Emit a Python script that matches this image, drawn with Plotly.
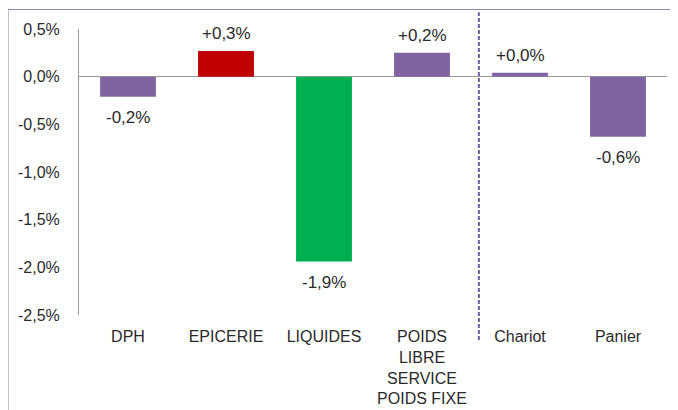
import plotly.graph_objects as go

categories = ["DPH", "EPICERIE", "LIQUIDES", "POIDS<br>LIBRE<br>SERVICE<br>POIDS FIXE", "Chariot", "Panier"]
values = [-0.21, 0.27, -1.94, 0.25, 0.04, -0.63]
value_labels = ["-0,2%", "+0,3%", "-1,9%", "+0,2%", "+0,0%", "-0,6%"]
bar_colors = ["#8064A2", "#C00000", "#00B050", "#8064A2", "#8064A2", "#8064A2"]
y_tickvals = [0.5, 0.0, -0.5, -1.0, -1.5, -2.0, -2.5]
y_ticktext = ["0,5%", "0,0%", "-0,5%", "-1,0%", "-1,5%", "-2,0%", "-2,5%"]
separator_pos = 3.58

FONT = "Liberation Sans, Arial, sans-serif"
TXT = "#2a2a2a"

fig = go.Figure()
fig.add_trace(go.Bar(
    x=list(range(len(categories))),
    y=values,
    marker=dict(color=bar_colors, line=dict(width=0)),
    width=0.57,
    hoverinfo="skip",
))

for i, (v, lab) in enumerate(zip(values, value_labels)):
    fig.add_annotation(x=i, y=v, text=lab, showarrow=False, xref="x", yref="y",
                       yanchor="middle", yshift=17 if v >= 0 else -21,
                       font=dict(size=17, color=TXT, family=FONT))

fig.add_shape(type="line", xref="x", yref="paper", x0=separator_pos, x1=separator_pos,
              y0=-0.087, y1=1.059, line=dict(color="#6f5f98", width=2, dash="4px,2px"))
fig.add_shape(type="rect", xref="paper", yref="paper", x0=-0.1207, x1=1.2, y0=-0.5, y1=1.068,
              line=dict(color="#8c80a8", width=1))

# page body has 8px margin, so the figure is sized to fill the rest of the 678x410 window
fig.update_layout(
    width=670, height=402,
    margin=dict(l=71, r=11, t=21, b=95, autoexpand=False),
    plot_bgcolor="white", paper_bgcolor="white",
    showlegend=False,
    font=dict(family=FONT, size=16, color=TXT),
)
fig.update_xaxes(
    tickmode="array", tickvals=list(range(len(categories))), ticktext=categories,
    range=[-0.5, len(categories) - 0.5], showgrid=False, showline=False, zeroline=False,
    ticks="", tickfont=dict(size=16), ticklabelstandoff=10, automargin=False,
)
fig.update_yaxes(
    range=[-2.5, 0.5], tickvals=y_tickvals, ticktext=y_ticktext,
    showgrid=False, showline=True, linecolor="#9a9a9a", linewidth=1,
    zeroline=True, zerolinecolor="#9a9a9a", zerolinewidth=1,
    ticks="", tickfont=dict(size=16), ticklabelstandoff=15, automargin=False,
)

fig.write_html("out.html")
